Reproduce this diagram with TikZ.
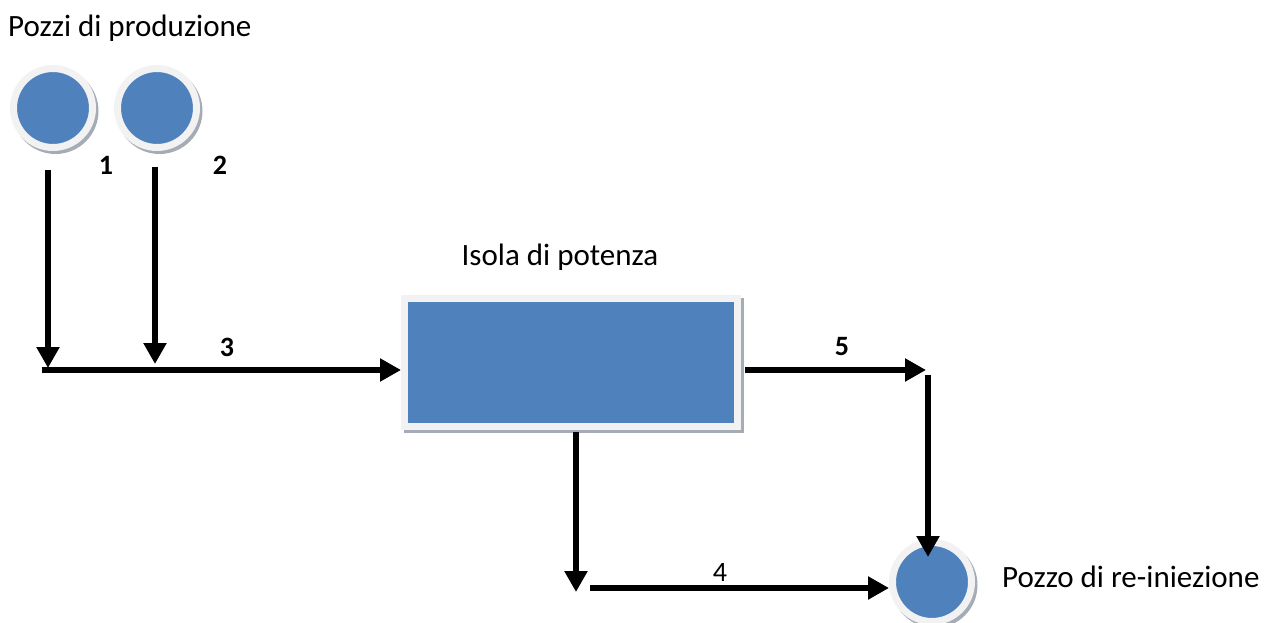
\documentclass[tikz,border=0pt]{standalone}
\usepackage{fontspec}
\setmainfont{Carlito}
\usetikzlibrary{arrows.meta}
\definecolor{wellblue}{HTML}{4F81BD}
\definecolor{ringgray}{HTML}{F2F2F2}
\definecolor{shadowgray}{HTML}{A6ACB5}
\tikzset{
  well/.style={circle, fill=wellblue, draw=ringgray, line width=7pt, minimum size=79pt, inner sep=0pt},
  wellshadow/.style={circle, fill=shadowgray, minimum size=86pt, inner sep=0pt},
  plant/.style={rectangle, fill=wellblue, draw=ringgray, line width=7pt, minimum width=333pt, minimum height=128pt, inner sep=0pt},
  plantshadow/.style={rectangle, fill=shadowgray, minimum width=340pt, minimum height=135pt, inner sep=0pt},
  flow/.style={line width=6.5pt, -{Triangle[length=21pt,width=22pt]}},
  lbl/.style={font=\fontsize{31}{37}\selectfont, inner sep=0pt},
  num/.style={font=\fontsize{28}{34}\selectfont\bfseries, inner sep=0pt},
  numr/.style={font=\fontsize{28}{34}\selectfont, inner sep=0pt}
}
\begin{document}
\begin{tikzpicture}[x=1pt,y=-1pt]
\useasboundingbox (0,0) rectangle (1264,623);
% shadows
\node[wellshadow] (s1) at (55.5,111) {};
\node[wellshadow] (s2) at (159.5,111) {};
\node[wellshadow] (s3) at (934.5,585) {};
\node[plantshadow] (sbox) at (574,365.5) {};
% nodes
\node[well] (w1) at (53,108) {};
\node[well] (w2) at (157,108) {};
\node[plant] (box) at (571,362.5) {};
\node[well] (rw) at (932,582) {};
% texts
\node[lbl, anchor=west] (tprod) at (8,28) {Pozzi di produzione};
\node[lbl] (tbox) at (560,257) {Isola di potenza};
\node[lbl, anchor=west] (trw) at (1002,577) {Pozzo di re-iniezione};
\node[num] (n1) at (106,165) {1};
\node[num] (n2) at (220,165) {2};
\node[num] (n3) at (227,347) {3};
\node[num] (n5) at (842,347) {5};
\node[numr] (n4) at (720,573) {4};
% coordinates
\coordinate (a1s) at (48,170);
\coordinate (a1e) at (48,368);
\coordinate (a2s) at (155,167);
\coordinate (a2e) at (155,364);
\coordinate (h3s) at (42,370);
\coordinate (h5s) at (745,370);
\coordinate (h5e) at (926,370);
\coordinate (v5s) at (928,375);
\coordinate (v5e) at (928,557);
\coordinate (v4s) at (576,432);
\coordinate (v4e) at (576,592);
\coordinate (h4s) at (590,588);
% connectors
\draw[flow] (a1s) -- (a1e);
\draw[flow] (a2s) -- (a2e);
\draw[flow] (h3s) -- (h3s -| box.west);
\draw[flow] (h5s) -- (h5e);
\draw[flow] (v5s) -- (v5e);
\draw[flow] (v4s) -- (v4e);
\draw[flow] (h4s) -- (h4s -| rw.west);
\end{tikzpicture}
\end{document}
